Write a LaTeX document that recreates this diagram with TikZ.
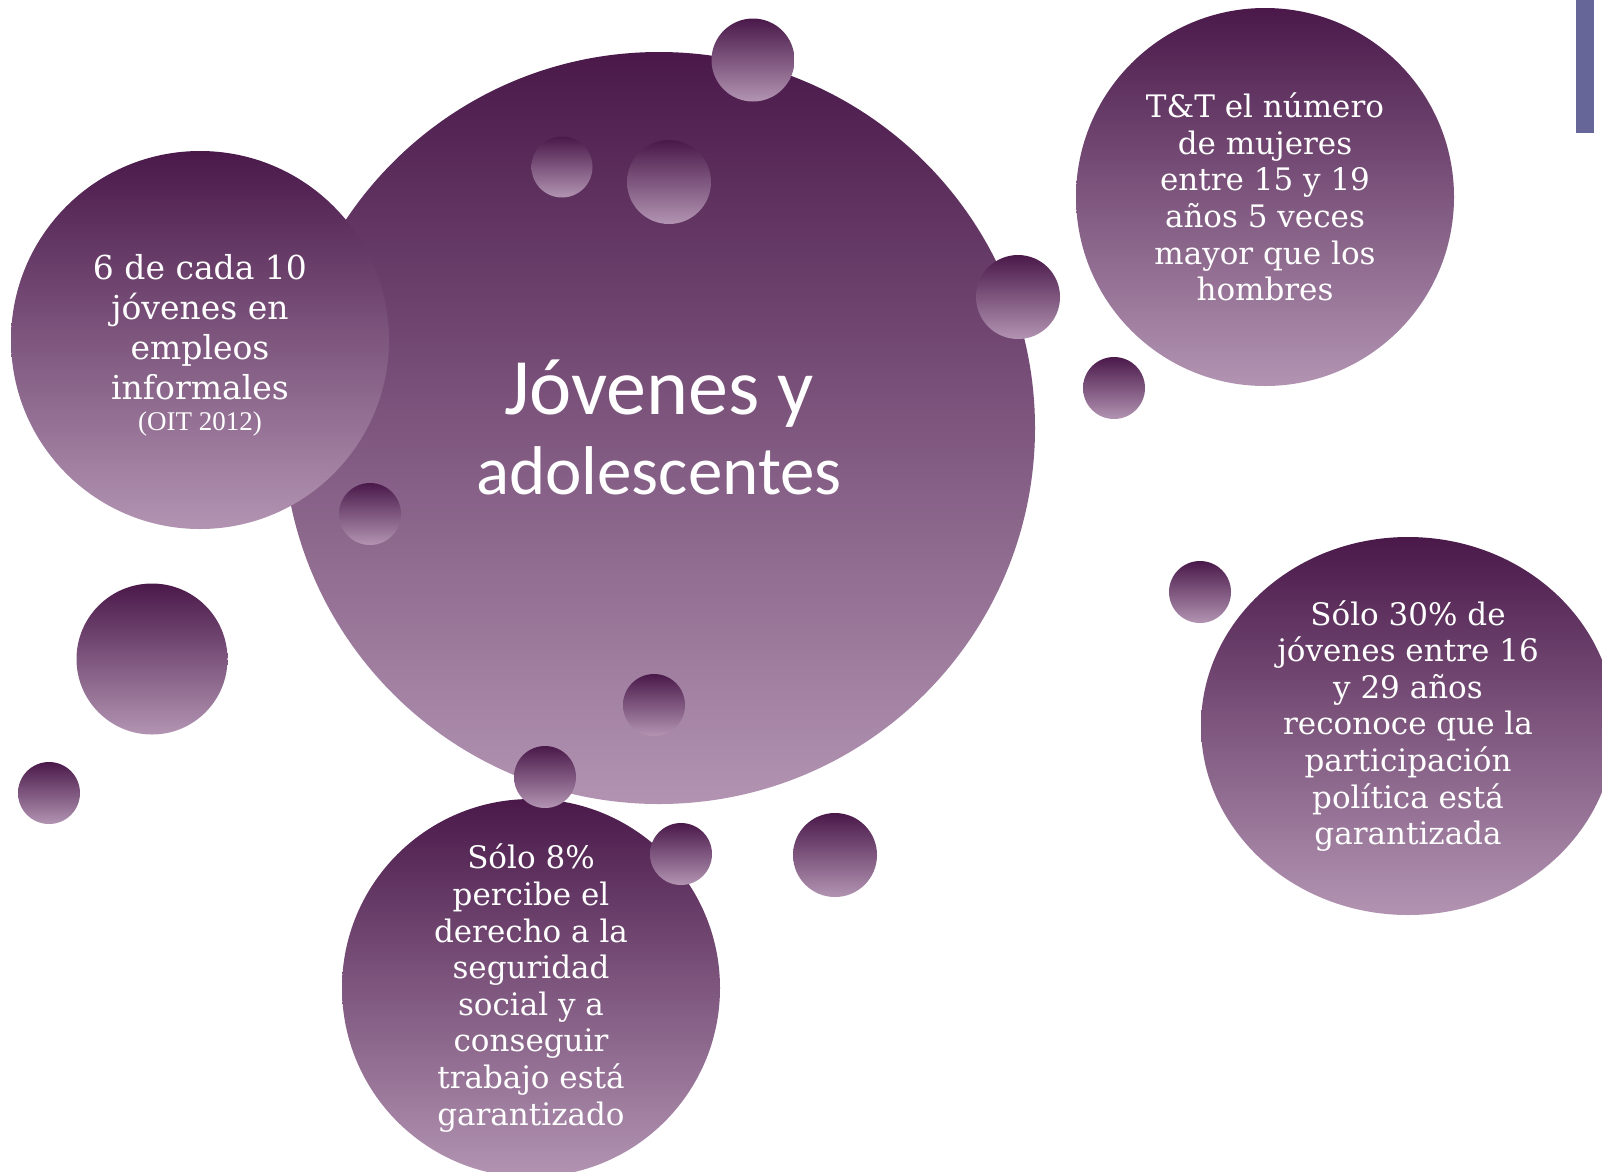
\documentclass[tikz,border=0pt]{standalone}
\usepackage{fontspec}
\setmainfont{DejaVu Serif}
\newfontfamily\calib{Carlito}
\newfontfamily\timesf{Liberation Serif}
\usetikzlibrary{shapes.geometric}
\definecolor{ctop}{RGB}{74,25,74}
\definecolor{cbot}{RGB}{178,148,178}
\definecolor{barcol}{RGB}{102,102,153}
\begin{document}
\begin{tikzpicture}[x=1pt,y=-1pt,
  bubble/.style={circle,inner sep=0pt,outer sep=0pt,top color=ctop,bottom color=cbot,draw=none},
  oval/.style={ellipse,inner sep=0pt,outer sep=0pt,top color=ctop,bottom color=cbot,draw=none},
  btext/.style={text=white,align=center,font=\fontsize{31}{36.6}\selectfont},
  bigtext/.style={text=white,anchor=base,inner sep=0pt},
]
\useasboundingbox (0,0) rectangle (1602,1171);
\clip (0,0) rectangle (1602,1171);
\fill[white] (0,0) rectangle (1602,1171);
% main bubbles
\node[bubble,minimum size=752pt] (big) at (659,428) {};
\node[bigtext,font=\calib\fontsize{80}{80}\selectfont] (jov) at (659,414) {Jóvenes y};
\node[bigtext,font=\calib\fontsize{69}{69}\selectfont] (ado) at (659,494) {adolescentes};
\node[bubble,minimum size=378pt] (left) at (200,340) {};
\node[btext,inner sep=0pt,font=\fontsize{33}{40}\selectfont] (lefttext) at (200,345) {6 de cada 10\\jóvenes en\\empleos\\informales\\[-9pt]{\timesf\fontsize{27}{30}\selectfont (OIT 2012)}};
\node[bubble,minimum size=378pt,btext] (tt) at (1265,197) {T\&T el número\\de mujeres\\entre 15 y 19\\años 5 veces\\mayor que los\\hombres};
\node[oval,minimum width=414pt,minimum height=378pt,btext] (p30) at (1408,726) {Sólo 30\% de\\jóvenes entre 16\\y 29 años\\reconoce que la\\participación\\política está\\garantizada};
\node[bubble,minimum size=378pt,btext] (p8) at (531,988) {Sólo 8\%\\percibe el\\derecho a la\\seguridad\\social y a\\conseguir\\trabajo está\\garantizado};
% small bubbles
\node[bubble,minimum size=83pt] (s1) at (753,60) {};
\node[bubble,minimum size=61pt] (s2) at (562,167) {};
\node[bubble,minimum size=84pt] (s3) at (669,182) {};
\node[bubble,minimum size=84pt] (s4) at (1018,297) {};
\node[bubble,minimum size=62pt] (s5) at (1114,388) {};
\node[bubble,minimum size=62pt] (s6) at (1200,592) {};
\node[bubble,minimum size=151pt] (s7) at (152,659) {};
\node[bubble,minimum size=62pt] (s8) at (49,793) {};
\node[bubble,minimum size=62pt] (s9) at (370,514) {};
\node[bubble,minimum size=62pt] (s10) at (654,705) {};
\node[bubble,minimum size=62pt] (s11) at (545,777) {};
\node[bubble,minimum size=62pt] (s12) at (681,854) {};
\node[bubble,minimum size=84pt] (s13) at (835,855) {};
% side bar
\fill[barcol] (1576,0) rectangle (1594,133);
\end{tikzpicture}
\end{document}
